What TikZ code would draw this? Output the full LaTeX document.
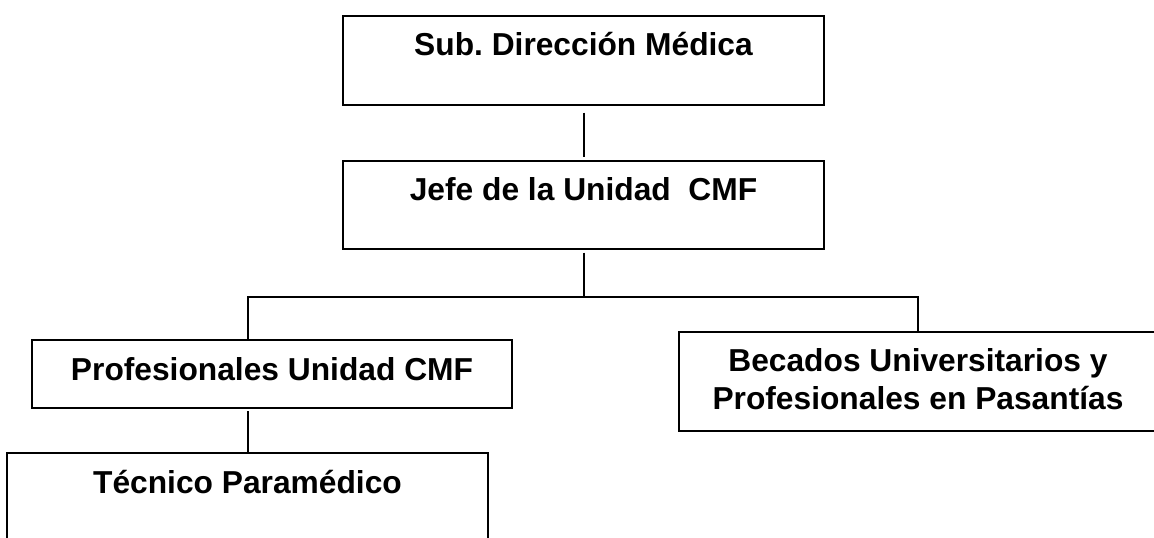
\documentclass[tikz,border=0pt]{standalone}
\usepackage{fontspec}
\setmainfont{Liberation Sans}
\frenchspacing
\def\lw{1.5pt}
\begin{document}
\begin{tikzpicture}[x=0.75pt, y=-0.75pt, line width=\lw, every node/.style={rectangle,draw,line width=\lw,inner sep=0,font=\fontsize{23.8}{28}\selectfont\bfseries,align=center}]
		\useasboundingbox (0,0) rectangle (1154,537);
		\clip (0,0) rectangle (1154,537);
		
		\node (SubDir) at (583.5,60.5) [minimum width=360.75pt, minimum height=66.75pt, text height=29.25pt, text depth=37.5pt]  {Sub. Dirección Médica};
		\node (Jefe) at (583.5,205) [minimum width=360.75pt, minimum height=66pt, text height=29.25pt, text depth=36.75pt]  {Jefe de la Unidad\ \ CMF};
		\node (Prof) at (272,374) [minimum width=360pt, minimum height=51pt, text height=30pt, text depth=21pt]  {Profesionales Unidad CMF};
		\node (Becad) at (918,381.5) [minimum width=358.5pt, minimum height=74.25pt, text height=57.75pt, text depth=16.5pt]  {Becados Universitarios y\\Profesionales en Pasantías};
		\node (Tec) at (247.5,497.5) [minimum width=360.75pt, minimum height=66.75pt, text height=30pt, text depth=36.75pt]  {Técnico Paramédico};
		
		\coordinate (bus) at (583.5,297);
		
		\draw[shorten <=5pt, shorten >=2pt] (SubDir) to (Jefe);
		\draw[shorten <=2pt] (Jefe) to (bus);
		\draw (Tec.north |- Prof.north) |- (bus) -| (Becad.north);
		\draw[shorten >=1.5pt] (Tec.north) to (Tec.north |- Prof.south);
	\end{tikzpicture}
\end{document}
